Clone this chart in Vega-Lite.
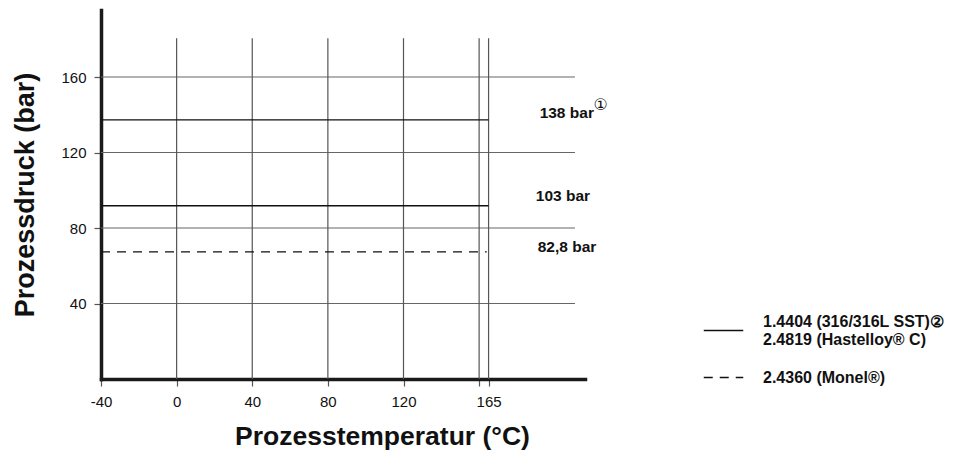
{
  "$schema": "https://vega.github.io/schema/vega-lite/v6.json",
  "autosize": {"type": "none"},
  "padding": {"left": 101, "top": 10, "right": 368, "bottom": 75},
  "width": 484,
  "height": 369,
  "background": "white",
  "config": {
    "view": {"stroke": null},
    "font": "Liberation Sans",
    "legend": {
      "orient": "none",
      "legendX": 602,
      "legendY": 300,
      "padding": 0,
      "title": null,
      "symbolType": "stroke",
      "symbolSize": 1560,
      "symbolStrokeWidth": 1.3,
      "symbolStrokeColor": "#111",
      "labelFont": "Liberation Sans",
      "labelFontSize": 16,
      "labelFontWeight": "bold",
      "labelColor": "#111",
      "labelOffset": 19,
      "labelLimit": 400,
      "rowPadding": 9
    }
  },
  "datasets": {
    "hgrid": [
      {"p": 40, "t": -40, "t2": 210.7},
      {"p": 80, "t": -40, "t2": 210.7},
      {"p": 120, "t": -40, "t2": 210.7},
      {"p": 160, "t": -40, "t2": 210.7}
    ],
    "vgrid": [
      {"t": 0, "p": 0, "p2": 180.5},
      {"t": 40, "p": 0, "p2": 180.5},
      {"t": 80, "p": 0, "p2": 180.5},
      {"t": 120, "p": 0, "p2": 180.5},
      {"t": 160, "p": 0, "p2": 180.5},
      {"t": 165, "p": 0, "p2": 180.5}
    ],
    "limits": [
      {"material": "1.4404 (316/316L SST) / 2.4819 (Hastelloy® C)", "p": 137.3, "t": -40, "t2": 165},
      {"material": "1.4404 (316/316L SST) / 2.4819 (Hastelloy® C)", "p": 91.8, "t": -40, "t2": 165},
      {"material": "2.4360 (Monel®)", "p": 67.4, "t": -40, "t2": 164}
    ],
    "notes": [
      {"label": "138 bar", "t": 192, "p": 141},
      {"label": "103 bar", "t": 190, "p": 97},
      {"label": "82,8 bar", "t": 191, "p": 70}
    ],
    "marks": [
      {"label": "①", "t": 220.5, "p": 145}
    ]
  },
  "encoding": {
    "x": {
      "field": "t",
      "type": "quantitative",
      "scale": {"domain": [-40, 216], "nice": false, "zero": false},
      "axis": {
        "title": "Prozesstemperatur (°C)",
        "values": [-40, 0, 40, 80, 120, 160, 165],
        "labelExpr": "datum.value == 160 ? '' : replace(datum.label, '−', '-')",
        "grid": false,
        "domainColor": "#1a1a1a",
        "domainWidth": 3.5,
        "domainCap": "square",
        "tickColor": "#555",
        "tickSize": 7,
        "tickWidth": 1.2,
        "labelFont": "Liberation Sans",
        "labelFontSize": 15,
        "labelColor": "#111",
        "labelPadding": 8,
        "labelFlush": false,
        "titleFont": "Liberation Sans",
        "titleFontSize": 26.5,
        "titleFontWeight": "bold",
        "titleColor": "#111",
        "titlePadding": 14,
        "titleX": 281
      }
    },
    "y": {
      "field": "p",
      "type": "quantitative",
      "scale": {"domain": [0, 195.5], "nice": false, "zero": false},
      "axis": {
        "title": "Prozessdruck (bar)",
        "values": [40, 80, 120, 160],
        "grid": false,
        "domainColor": "#1a1a1a",
        "domainWidth": 3.5,
        "domainCap": "square",
        "tickColor": "#555",
        "tickSize": 7,
        "tickWidth": 1.2,
        "labelFont": "Liberation Sans",
        "labelFontSize": 15,
        "labelColor": "#111",
        "labelPadding": 8,
        "titleFont": "Liberation Sans",
        "titleFontSize": 27,
        "titleFontWeight": "bold",
        "titleColor": "#111",
        "titlePadding": 21
      }
    }
  },
  "layer": [
    {
      "data": {"name": "hgrid"},
      "mark": {"type": "rule", "color": "#666", "strokeWidth": 1.2},
      "encoding": {"x2": {"field": "t2"}}
    },
    {
      "data": {"name": "vgrid"},
      "mark": {"type": "rule", "color": "#555", "strokeWidth": 1.2},
      "encoding": {"y2": {"field": "p2"}}
    },
    {
      "data": {"name": "limits"},
      "mark": {"type": "rule", "color": "#111", "strokeWidth": 1.3},
      "encoding": {
        "x2": {"field": "t2"},
        "strokeDash": {
          "field": "material",
          "type": "nominal",
          "scale": {
            "domain": ["1.4404 (316/316L SST) / 2.4819 (Hastelloy® C)", "2.4360 (Monel®)"],
            "range": [[1, 0], [9, 7]]
          },
          "legend": {
            "labelExpr": "datum.value == '2.4360 (Monel®)' ? datum.value : ['1.4404 (316/316L SST)②', '2.4819 (Hastelloy® C)']",
            "encode": {
              "labels": {"update": {"dy": {"signal": "datum.index === 0 ? -9 : 0"}}},
              "symbols": {"update": {"strokeDash": {"signal": "datum.index === 0 ? [1, 0] : [6, 5]"}}}
            }
          }
        }
      }
    },
    {
      "data": {"name": "notes"},
      "mark": {"type": "text", "align": "left", "baseline": "middle", "fontSize": 15.5, "fontWeight": "bold", "color": "#111", "font": "Liberation Sans"},
      "encoding": {"text": {"field": "label"}}
    },
    {
      "data": {"name": "marks"},
      "mark": {"type": "text", "align": "left", "baseline": "middle", "fontSize": 16, "color": "#111", "font": "DejaVu Sans"},
      "encoding": {"text": {"field": "label"}}
    }
  ]
}
